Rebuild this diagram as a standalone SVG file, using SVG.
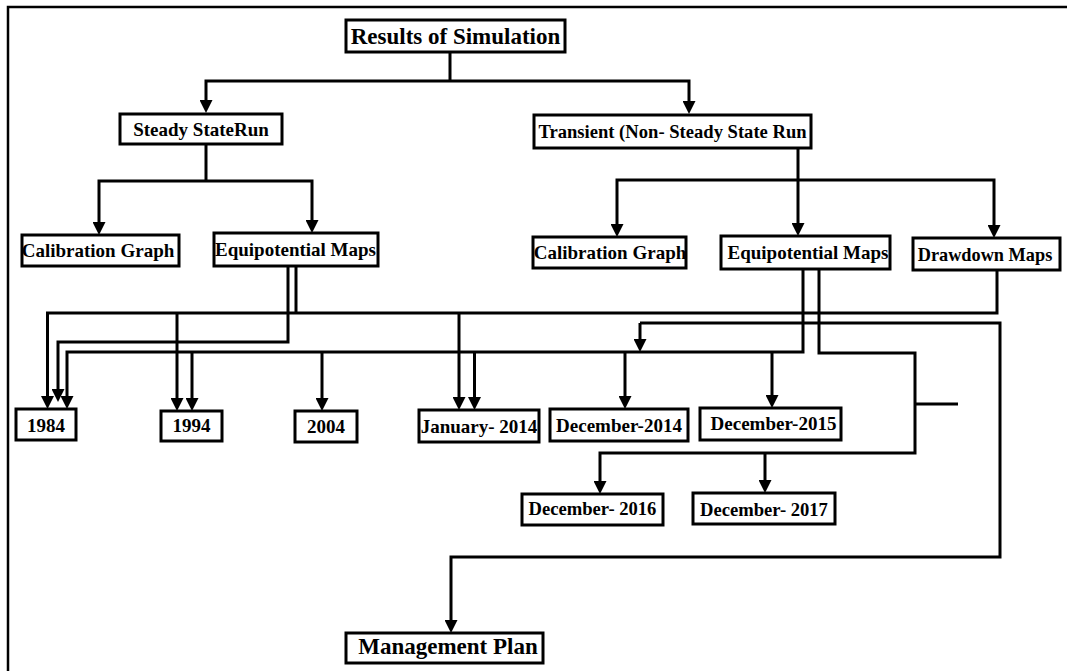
<svg xmlns="http://www.w3.org/2000/svg" width="1067" height="671" viewBox="0 0 1067 671">
<style>
.box{fill:#fff;stroke:#000;stroke-width:3}
.t{font-family:"Liberation Serif","Times New Roman",serif;font-weight:bold;font-size:19px;fill:#000;text-anchor:middle}
.big{font-size:23px}
.c{fill:none;stroke:#000;stroke-width:3}
.ca{fill:none;stroke:#000;stroke-width:3;marker-end:url(#ah)}
</style>
<defs>
<marker id="ah" viewBox="0 0 13 13" markerWidth="13" markerHeight="13" markerUnits="userSpaceOnUse" refX="1" refY="6.5" orient="auto">
<path d="M0,0 L13,6.5 L0,13 z" fill="#000"/>
</marker>
</defs>
<rect width="1067" height="671" fill="#fff"/>
<path d="M8,671 V7 H1067" fill="none" stroke="#000" stroke-width="2.5"/>
<g id="connectors">
<path class="c" d="M450,52 V81"/>
<path class="ca" d="M450,81 H206 V101"/>
<path class="ca" d="M450,81 H689 V102"/>
<path class="c" d="M206,144 V181"/>
<path class="ca" d="M206,181 H99 V223"/>
<path class="ca" d="M206,181 H312 V221"/>
<path class="c" d="M798,148 V180"/>
<path class="ca" d="M798,180 H617 V225"/>
<path class="ca" d="M798,180 V224"/>
<path class="ca" d="M798,180 H994 V226"/>
<path class="c" d="M296,267 V313"/>
<path class="ca" d="M997,271 V313 H47.5 V397"/>
<path class="ca" d="M177,313 V399"/>
<path class="ca" d="M459,313 V398"/>
<path class="ca" d="M288,267 V342 H58 V390"/>
<path class="ca" d="M803,269 V352 H67 V397"/>
<path class="ca" d="M192,352 V399"/>
<path class="ca" d="M322,352 V399"/>
<path class="ca" d="M474.5,352 V398"/>
<path class="ca" d="M625,352 V397"/>
<path class="ca" d="M772,352 V396"/>
<path class="ca" d="M819,269 V353 H915 V453 H600 V482"/>
<path class="ca" d="M765,453 V481"/>
<path class="c" d="M915,404 H958"/>
<path class="ca" d="M640,323 V340"/>
<path class="ca" d="M640,323 H1000 V557 H451 V621"/>
</g>
<g id="n-title"><rect class="box" x="346" y="20" width="219" height="32"/><text class="t big" x="455.5" y="44">Results of Simulation</text></g>
<g id="n-steady"><rect class="box" x="120" y="114" width="162" height="30"/><text class="t" x="201" y="135.5">Steady StateRun</text></g>
<g id="n-transient"><rect class="box" x="534" y="115" width="277" height="33"/><text class="t" x="672.5" y="138" style="font-size:18.6px">Transient (Non- Steady State Run</text></g>
<g id="n-calib-l"><rect class="box" x="22" y="235" width="157" height="31"/><text class="t" x="98" y="257">Calibration Graph</text></g>
<g id="n-equip-l"><rect class="box" x="214" y="233" width="164" height="33"/><text class="t" x="295.5" y="256">Equipotential Maps</text></g>
<g id="n-calib-r"><rect class="box" x="533" y="237" width="153" height="31"/><text class="t" x="610" y="259">Calibration Graph</text></g>
<g id="n-equip-r"><rect class="box" x="721" y="236" width="169" height="33"/><text class="t" x="808" y="259">Equipotential Maps</text></g>
<g id="n-drawdown"><rect class="box" x="913" y="238" width="147" height="32"/><text class="t" x="985" y="260.5" style="font-size:18.3px">Drawdown Maps</text></g>
<g id="n-1984"><rect class="box" x="16" y="409" width="60" height="31"/><text class="t" x="46" y="431.5">1984</text></g>
<g id="n-1994"><rect class="box" x="161" y="411" width="61" height="30"/><text class="t" x="191.5" y="432">1994</text></g>
<g id="n-2004"><rect class="box" x="295" y="411" width="62" height="31"/><text class="t" x="326" y="433">2004</text></g>
<g id="n-jan2014"><rect class="box" x="419" y="410" width="120" height="32"/><text class="t" x="479" y="433">January- 2014</text></g>
<g id="n-dec2014"><rect class="box" x="550" y="409" width="138" height="32"/><text class="t" x="619" y="432">December-2014</text></g>
<g id="n-dec2015"><rect class="box" x="700" y="408" width="141" height="32"/><text class="t" x="773.5" y="430">December-2015</text></g>
<g id="n-dec2016"><rect class="box" x="522" y="494" width="141" height="31"/><text class="t" x="592.5" y="515" style="font-size:18.6px">December- 2016</text></g>
<g id="n-dec2017"><rect class="box" x="693" y="493" width="142" height="31"/><text class="t" x="764" y="516" style="font-size:18.6px">December- 2017</text></g>
<g id="n-mgmt"><rect class="box" x="346" y="633" width="197" height="30"/><text class="t big" x="448" y="654">Management Plan</text></g>
</svg>
